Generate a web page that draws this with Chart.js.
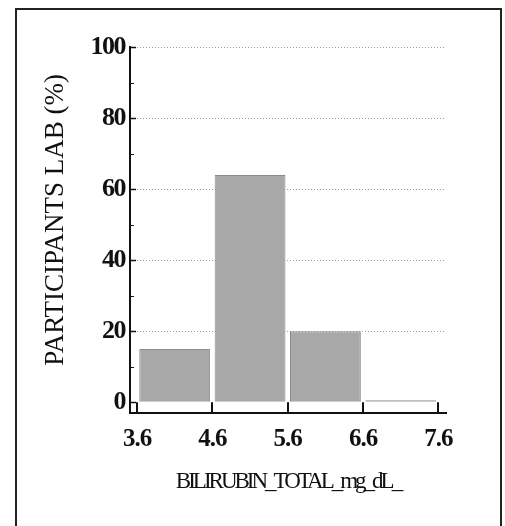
<!DOCTYPE html>
<html>
<head>
<meta charset="utf-8">
<script src="https://cdn.jsdelivr.net/npm/chart.js@4.4.1/dist/chart.umd.min.js"></script>
<style>
  html, body { margin: 0; padding: 0; background: #fff; }
  #wrap { position: relative; width: 505px; height: 526px; }
  #frame { position: absolute; left: 15px; top: 8px; width: 487px; height: 530px;
           border: 2px solid #222; border-bottom: none; box-sizing: border-box; pointer-events: none; }
  canvas { position: absolute; left: 0; top: 0; }
</style>
</head>
<body>
<div id="wrap">
  <canvas id="c" width="505" height="526"></canvas>
  <div id="frame"></div>
</div>
<script>
// ---- data ----
const binStarts = [3.6, 4.6, 5.6, 6.6];
const binWidth = 1.0;
const percentValues = [15, 64, 20, 0.6];
const xTickValues = [3.6, 4.6, 5.6, 6.6, 7.6];
const yTickValues = [0, 20, 40, 60, 80, 100];
const yMinorTickValues = [10, 30, 50, 70, 90];
const xTitle = 'BILIRUBIN_TOTAL_mg_dL_';
const yTitle = 'PARTICIPANTS LAB (%)';

const points = binStarts.map((s, i) => ({ x: s + binWidth / 2, y: percentValues[i] }));

function withSpacing(scale, method, sp) {
  const orig = scale[method];
  scale[method] = function (...args) {
    const ctx = this.ctx;
    const prev = ctx.letterSpacing;
    ctx.letterSpacing = sp;
    const r = orig.apply(this, args);
    ctx.letterSpacing = prev || '0px';
    return r;
  };
}

const textSpacing = {
  id: 'textSpacing',
  afterLayout(chart) {
    const xs = chart.scales.x, ys = chart.scales.y;
    if (!xs._spPatched) {
      withSpacing(xs, 'drawLabels', '-1px');
      withSpacing(xs, 'drawTitle', '-3px');
      xs._spPatched = true;
    }
    if (!ys._spPatched) {
      withSpacing(ys, 'drawLabels', '-1.5px');
      ys._spPatched = true;
    }
  }
};

const axisMarks = {
  id: 'axisMarks',
  afterDraw(chart) {
    const ctx = chart.ctx;
    const xs = chart.scales.x, ys = chart.scales.y;
    const y0 = ys.getPixelForValue(0);
    const axisY = chart.chartArea.bottom;
    const axisX = chart.chartArea.left;
    ctx.save();
    ctx.strokeStyle = '#111';
    ctx.lineWidth = 2;
    xTickValues.forEach(v => {
      const px = Math.round(xs.getPixelForValue(v));
      ctx.beginPath();
      ctx.moveTo(px, axisY);
      ctx.lineTo(px, y0);
      ctx.stroke();
    });
    ctx.lineWidth = 1.5;
    yTickValues.forEach(v => {
      const py = Math.round(ys.getPixelForValue(v)) + 0.5;
      ctx.beginPath();
      ctx.moveTo(axisX, py);
      ctx.lineTo(axisX + 6, py);
      ctx.stroke();
    });
    ctx.lineWidth = 1;
    yMinorTickValues.forEach(v => {
      const py = Math.round(ys.getPixelForValue(v)) + 0.5;
      ctx.beginPath();
      ctx.moveTo(axisX, py);
      ctx.lineTo(axisX + 4, py);
      ctx.stroke();
    });
    ctx.restore();
  }
};

new Chart(document.getElementById('c'), {
  type: 'bar',
  data: {
    datasets: [{
      data: points,
      backgroundColor: '#a8a8a8',
      borderColor: '#8c8c8c',
      borderWidth: 1,
      barPercentage: 0.94,
      categoryPercentage: 1.0
    }]
  },
  options: {
    responsive: false,
    animation: false,
    devicePixelRatio: 1,
    layout: { padding: { left: 0, top: 47, right: 59, bottom: 0 } },
    plugins: { legend: { display: false }, tooltip: { enabled: false } },
    scales: {
      x: {
        type: 'linear',
        offset: false,
        min: 3.507,
        max: 7.7,
        afterBuildTicks(scale) { scale.ticks = xTickValues.map(v => ({ value: v })); },
        afterFit(scale) { scale.height = 113; },
        grid: { display: true, drawOnChartArea: false, drawTicks: false, color: 'rgba(0,0,0,0)' },
        border: { display: true, color: '#111', width: 2 },
        ticks: {
          padding: 12,
          color: '#111',
          maxRotation: 0,
          autoSkip: false,
          font: { family: 'Liberation Serif', size: 25, weight: 'bold' },
          callback: v => (+v).toFixed(1)
        },
        title: {
          display: true,
          text: xTitle,
          color: '#111',
          font: { family: 'Liberation Serif', size: 23 },
          padding: { top: 0, bottom: 30 }
        }
      },
      y: {
        min: -3,
        max: 100,
        afterBuildTicks(scale) { scale.ticks = yTickValues.map(v => ({ value: v })); },
        afterFit(scale) { scale.width = 130; },
        grid: {
          drawTicks: false,
          color: ctx => (ctx.tick && ctx.tick.value === 0) ? 'rgba(0,0,0,0)' : '#9a9a9a',
          lineWidth: 1
        },
        border: { display: true, color: '#111', width: 2, dash: [1, 2] },
        ticks: {
          padding: 5,
          color: '#111',
          autoSkip: false,
          font: { family: 'Liberation Serif', size: 26, weight: 'bold' }
        },
        title: {
          display: true,
          text: '   ' + yTitle,
          color: '#111',
          font: { family: 'Liberation Serif', size: 27 },
          padding: { top: 40, bottom: 0 }
        }
      }
    }
  },
  plugins: [textSpacing, axisMarks]
});
</script>
</body>
</html>
